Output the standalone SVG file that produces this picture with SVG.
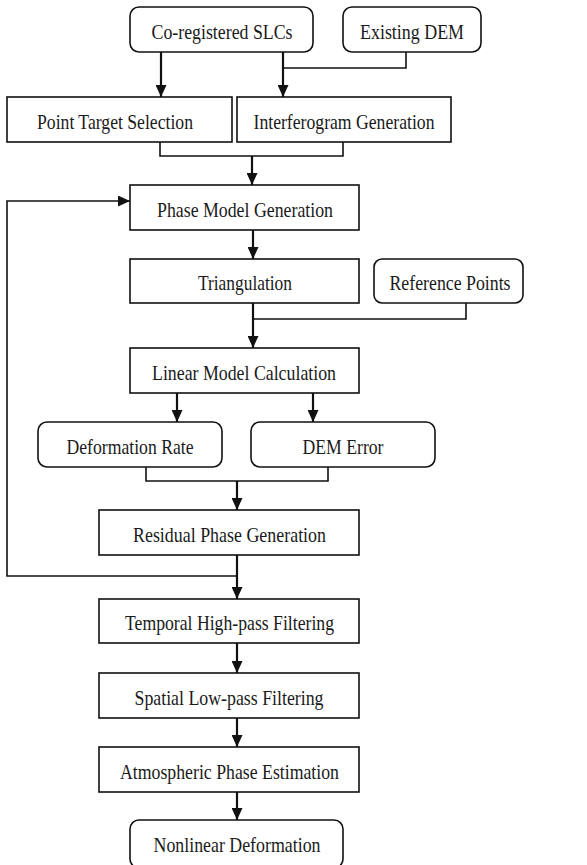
<svg xmlns="http://www.w3.org/2000/svg" width="587" height="865" viewBox="0 0 587 865">
<style>
.box{fill:#fff;stroke:#111;stroke-width:1.6}
.t{font-family:"Liberation Serif","Times New Roman",serif;font-size:21px;fill:#1a1a1a;text-anchor:middle}
.c{fill:none;stroke:#111;stroke-width:1.6}
.a{fill:none;stroke:#111;stroke-width:2.2;marker-end:url(#ah)}
</style>
<defs>
<marker id="ah" markerUnits="userSpaceOnUse" markerWidth="12" markerHeight="11" refX="12" refY="5.5" orient="auto">
<path d="M0,0 L12,5.5 L0,11 z" fill="#111"/>
</marker>
</defs>
<rect width="587" height="865" fill="#fff"/>
<g id="connectors">
<path class="a" d="M161,52 V97"/>
<path class="a" d="M283,52 V97"/>
<path class="c" d="M406,52 V68 H283"/>
<path class="c" d="M160,142 V156 H343 V142"/>
<path class="a" d="M252,156 V185"/>
<path class="a" d="M253,230 V259"/>
<path class="a" d="M253,303 V348"/>
<path class="c" d="M466,303 V319 H253"/>
<path class="a" d="M177,393 V422"/>
<path class="a" d="M313,393 V422"/>
<path class="c" d="M146,467 V481 H328 V467"/>
<path class="a" d="M237,481 V510"/>
<path class="a" d="M237,555 V599"/>
<path class="a" d="M237,576 H7 V201 H130" style="stroke-width:1.6"/>
<path class="a" d="M237,643 V673"/>
<path class="a" d="M237,718 V747"/>
<path class="a" d="M237,792 V820"/>
</g>
<g id="slcs"><rect class="box" x="130" y="7" width="183" height="45" rx="9"/><text class="t" x="222" y="39" textLength="141" lengthAdjust="spacingAndGlyphs">Co-registered SLCs</text></g>
<g id="dem"><rect class="box" x="343" y="7" width="138" height="45" rx="9"/><text class="t" x="412" y="39" textLength="104" lengthAdjust="spacingAndGlyphs">Existing DEM</text></g>
<g id="pts"><rect class="box" x="7" y="97" width="225" height="45"/><text class="t" x="115" y="129" textLength="156" lengthAdjust="spacingAndGlyphs">Point Target Selection</text></g>
<g id="ifg"><rect class="box" x="237" y="97" width="214" height="45"/><text class="t" x="344" y="129" textLength="181" lengthAdjust="spacingAndGlyphs">Interferogram Generation</text></g>
<g id="pmg"><rect class="box" x="130" y="185" width="229" height="45"/><text class="t" x="245" y="217" textLength="176" lengthAdjust="spacingAndGlyphs">Phase Model Generation</text></g>
<g id="tri"><rect class="box" x="130" y="259" width="229" height="44"/><text class="t" x="245" y="290" textLength="94" lengthAdjust="spacingAndGlyphs">Triangulation</text></g>
<g id="ref"><rect class="box" x="374" y="259" width="149" height="44" rx="8"/><text class="t" x="450" y="290" textLength="121" lengthAdjust="spacingAndGlyphs">Reference Points</text></g>
<g id="lmc"><rect class="box" x="130" y="348" width="229" height="45"/><text class="t" x="244" y="380" textLength="184" lengthAdjust="spacingAndGlyphs">Linear Model Calculation</text></g>
<g id="dr"><rect class="box" x="38" y="422" width="184" height="45" rx="9"/><text class="t" x="130" y="454" textLength="127" lengthAdjust="spacingAndGlyphs">Deformation Rate</text></g>
<g id="deme"><rect class="box" x="251" y="422" width="184" height="45" rx="9"/><text class="t" x="343" y="454" textLength="81" lengthAdjust="spacingAndGlyphs">DEM Error</text></g>
<g id="rpg"><rect class="box" x="99" y="510" width="260" height="45"/><text class="t" x="229.5" y="542" textLength="193" lengthAdjust="spacingAndGlyphs">Residual Phase Generation</text></g>
<g id="thp"><rect class="box" x="99" y="599" width="260" height="44"/><text class="t" x="229.5" y="630" textLength="209" lengthAdjust="spacingAndGlyphs">Temporal High-pass Filtering</text></g>
<g id="slp"><rect class="box" x="99" y="673" width="260" height="45"/><text class="t" x="229" y="705" textLength="189" lengthAdjust="spacingAndGlyphs">Spatial Low-pass Filtering</text></g>
<g id="ape"><rect class="box" x="99" y="747" width="260" height="45"/><text class="t" x="229.5" y="779" textLength="219" lengthAdjust="spacingAndGlyphs">Atmospheric Phase Estimation</text></g>
<g id="nld"><rect class="box" x="130" y="820" width="213" height="48" rx="9"/><text class="t" x="237" y="852" textLength="167" lengthAdjust="spacingAndGlyphs">Nonlinear Deformation</text></g>
</svg>
